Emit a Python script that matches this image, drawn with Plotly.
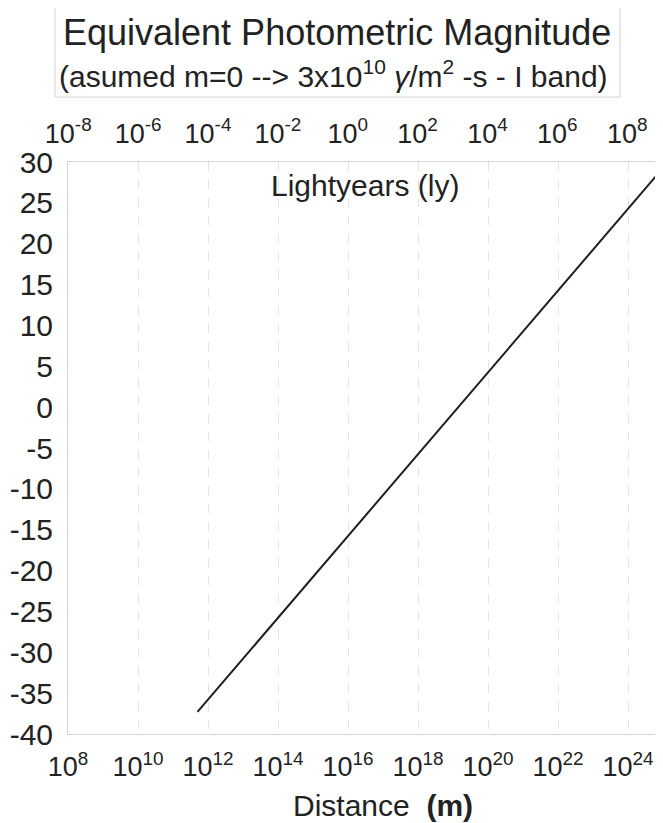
import math
import plotly.graph_objects as go

# ---- data ----
distance_m = [5.0e11, 7.0e24]          # line end points (metres)
magnitude = [-37.3, 28.5]              # equivalent photometric magnitude
LY_M = 9.461e15                        # metres per lightyear

x_tick_exp = [8, 10, 12, 14, 16, 18, 20, 22, 24]
ly_tick_exp = [-8, -6, -4, -2, 0, 2, 4, 6, 8]
y_ticks = [-40, -35, -30, -25, -20, -15, -10, -5, 0, 5, 10, 15, 20, 25, 30]
y_ticklabels = [str(v) for v in y_ticks]

x_range_exp = [8, 25]

FONT = "Liberation Sans, Arial, sans-serif"
TXT = "#222222"
OFF = 8                                  # page body margin
W, H = 663 - OFF, 823 - OFF
L, R, T, B = 68 - OFF, 0, 162 - OFF, 823 - 734
PW, PH = W - L - R, H - T - B


def px(x):
    return (x - OFF - L) / PW


def py(y):
    return (H - B - (y - OFF)) / PH


distance_ly = [d / LY_M for d in distance_m]

fig = go.Figure()
fig.add_trace(go.Scatter(x=distance_m, y=magnitude, mode="lines",
                         line=dict(color="#1e1e1e", width=2),
                         showlegend=False, hoverinfo="skip"))
fig.add_trace(go.Scatter(x=distance_ly, y=magnitude, mode="lines",
                         line=dict(color="rgba(0,0,0,0)", width=0),
                         xaxis="x2", showlegend=False, hoverinfo="skip"))

lyoff = math.log10(LY_M)

fig.update_layout(
    width=W, height=H,
    margin=dict(l=L, r=R, t=T, b=B, pad=0),
    paper_bgcolor="white", plot_bgcolor="white",
    font=dict(family=FONT, color=TXT, size=30),
    xaxis=dict(type="log", range=x_range_exp,
               tickvals=[10.0 ** e for e in x_tick_exp],
               ticktext=["10<sup>%d</sup>" % e for e in x_tick_exp],
               tickfont=dict(size=27, color=TXT, family=FONT),
               showgrid=True, gridcolor="#e4e4e4", griddash="dash", gridwidth=1,
               showline=True, linecolor="#d4d4d4", linewidth=1, mirror=True,
               ticks="", zeroline=False, ticklabelstandoff=9),
    xaxis2=dict(type="log", overlaying="x", side="top",
                range=[x_range_exp[0] - 0.03 - lyoff, x_range_exp[1] - lyoff],
                tickvals=[10.0 ** e for e in ly_tick_exp],
                ticktext=["10<sup>%d</sup>" % e for e in ly_tick_exp],
                tickfont=dict(size=27, color=TXT, family=FONT),
                showgrid=False, showline=False, ticks="", zeroline=False,
                ticklabelstandoff=13),
    yaxis=dict(range=[-40, 30], tickvals=y_ticks, ticktext=y_ticklabels,
               tickfont=dict(size=30, color=TXT, family=FONT),
               showgrid=False, showline=True, linecolor="#d4d4d4", linewidth=1,
               mirror=True, ticks="", zeroline=False, ticklabelstandoff=8),
    shapes=[dict(type="rect", xref="paper", yref="paper",
                 x0=px(55), x1=px(620), y0=py(97), y1=py(3),
                 line=dict(color="#d4d4d4", width=1))],
    annotations=[
        dict(text="Equivalent Photometric Magnitude", xref="paper", yref="paper",
             x=px(337), y=py(33), xanchor="center", yanchor="middle",
             showarrow=False, font=dict(size=36, color=TXT)),
        dict(text="(asumed m=0 --&gt; 3x10<sup>10</sup> <i>\u03b3</i>/m<sup>2</sup> -s - I band)",
             xref="paper", yref="paper", x=px(333), y=py(74),
             xanchor="center", yanchor="middle", showarrow=False,
             font=dict(size=30, color=TXT)),
        dict(text="Lightyears (ly)", xref="paper", yref="paper",
             x=px(365), y=py(185), xanchor="center", yanchor="middle",
             showarrow=False, font=dict(size=30, color=TXT)),
        dict(text="Distance  <b>(m)</b>", xref="paper", yref="paper",
             x=px(383), y=py(805), xanchor="center", yanchor="middle",
             showarrow=False, font=dict(size=30, color=TXT)),
    ],
)

fig.write_html("out.html")
